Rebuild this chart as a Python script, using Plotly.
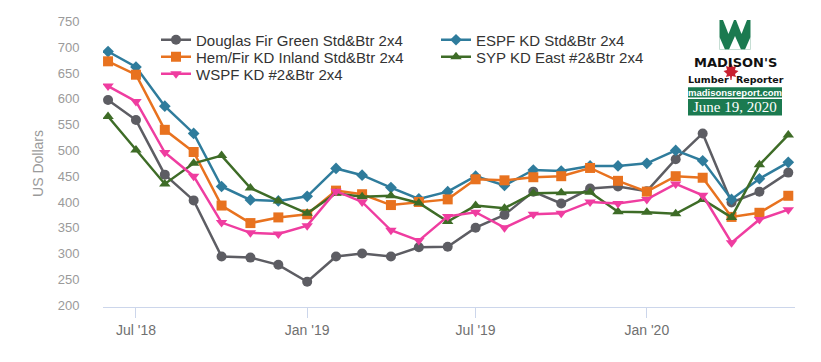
import plotly.graph_objects as go

# ---------------- data ----------------
months = [
    "2018-06-01", "2018-07-01", "2018-08-01", "2018-09-01", "2018-10-01",
    "2018-11-01", "2018-12-01", "2019-01-01", "2019-02-01", "2019-03-01",
    "2019-04-01", "2019-05-01", "2019-06-01", "2019-07-01", "2019-08-01",
    "2019-09-01", "2019-10-01", "2019-11-01", "2019-12-01", "2020-01-01",
    "2020-02-01", "2020-03-01", "2020-04-01", "2020-05-01", "2020-06-01",
]

douglas_fir = [598, 559, 453, 403, 294, 292, 278, 245, 294, 300, 294, 312, 313,
               350, 375, 420, 397, 426, 430, 421, 483, 533, 399, 420, 457]
espf = [692, 662, 586, 533, 430, 404, 402, 411, 465, 452, 428, 406, 420,
        450, 432, 462, 460, 470, 470, 475, 500, 480, 405, 445, 477]
hem_fir = [673, 647, 540, 497, 393, 359, 370, 376, 422, 415, 394, 400, 405,
           444, 442, 448, 450, 466, 441, 420, 450, 447, 371, 379, 412]
syp = [566, 501, 435, 475, 490, 427, 402, 378, 417, 410, 412, 398, 362,
       393, 388, 417, 418, 419, 381, 380, 377, 405, 370, 472, 530]
wspf = [625, 595, 496, 450, 360, 340, 338, 354, 421, 400, 345, 325, 372,
        380, 350, 376, 378, 400, 397, 405, 435, 413, 321, 366, 385]

series_names = [
    "Douglas Fir Green Std&Btr 2x4",
    "ESPF KD Std&Btr 2x4",
    "Hem/Fir KD Inland Std&Btr 2x4",
    "SYP KD East #2&Btr 2x4",
    "WSPF KD #2&Btr 2x4",
]
series_values = [douglas_fir, espf, hem_fir, syp, wspf]

x_tick_vals = ["2018-07-01", "2019-01-01", "2019-07-01", "2020-01-01"]
x_tick_text = ["Jul '18", "Jan '19", "Jul '19", "Jan '20"]
y_tick_vals = [200, 250, 300, 350, 400, 450, 500, 550, 600, 650, 700, 750]
y_title = "US Dollars"

logo_title = "MADISON'S"
logo_sub_left = "Lumber"
logo_sub_right = "Reporter"
logo_site = "madisonsreport.com"
logo_date = "June 19, 2020"

# ---------------- styles ----------------
colors = ["#5d5d63", "#2f7c9c", "#e8721f", "#3e6c27", "#ef3da0"]
symbols = ["circle", "diamond", "square", "triangle-up", "triangle-down"]
msizes = [10, 9, 10, 10, 10]
legend_keys = ["legend", "legend2", "legend3", "legend4", "legend5"]

# page body has an 8px margin; figure sized so the page fits the window
OFF = 8
W, H = 805, 346
L, R, T, B = 95, 18, 12, 47
PW, PH = W - L - R, H - T - B


def px(x):
    """page pixel x -> paper coordinate"""
    return (x - OFF - L) / PW


def py(y):
    """page pixel y -> paper coordinate"""
    return (H - B - (y - OFF)) / PH


fig = go.Figure()
for name, vals, c, s, ms, lg in zip(series_names, series_values, colors,
                                     symbols, msizes, legend_keys):
    fig.add_trace(go.Scatter(
        x=months, y=vals, name=name, mode="lines+markers",
        line=dict(color=c, width=2.5),
        marker=dict(symbol=s, size=ms, color=c, line=dict(width=0)),
        legend=lg,
    ))

# legend placements (text start x, row center y) in page pixels
legend_pos = [(196, 40), (476, 40), (196, 57), (476, 57), (196, 74)]
legend_layouts = {}
for lg, (tx, ty) in zip(legend_keys, legend_pos):
    legend_layouts[lg] = dict(
        x=px(tx - 40), y=py(ty), xanchor="left", yanchor="middle",
        bgcolor="rgba(0,0,0,0)", borderwidth=0,
        font=dict(family="Liberation Sans, Arial, sans-serif", size=15,
                  color="#333333"),
        itemclick=False, itemdoubleclick=False,
    )

fig.update_layout(
    width=W, height=H,
    margin=dict(l=L, r=R, t=T, b=B, autoexpand=False),
    paper_bgcolor="white", plot_bgcolor="white",
    font=dict(family="Liberation Sans, Arial, sans-serif"),
    xaxis=dict(
        type="date",
        range=["2018-05-26 14:00", "2020-06-08 05:00"],
        tickvals=x_tick_vals, ticktext=x_tick_text,
        showgrid=False, zeroline=False,
        showline=True, linecolor="#ccd6eb", linewidth=1,
        ticks="outside", ticklen=10, tickcolor="#ccd6eb", tickwidth=1,
        tickfont=dict(size=14, color="#707070"),
        fixedrange=True,
    ),
    yaxis=dict(
        range=[196.1, 753.2],
        tickvals=y_tick_vals,
        showgrid=False, zeroline=False, showline=False,
        ticks="outside", ticklen=20, tickcolor="rgba(0,0,0,0)",
        tickfont=dict(size=13, color="#9a9a9a"),
        title=dict(text=y_title, font=dict(size=14, color="#9a9a9a"),
                   standoff=10),
        fixedrange=True,
    ),
    showlegend=True,
    **legend_layouts,
)

# ---------------- logo (shapes + text) ----------------
green = "#1b7a50"
shapes = []


def rect(x0, y0, x1, y1, color):
    shapes.append(dict(type="rect", xref="paper", yref="paper",
                       x0=px(x0), x1=px(x1), y0=py(y1), y1=py(y0),
                       fillcolor=color, line=dict(width=0), layer="above"))


def poly(points, color):
    d = "M " + " L ".join(f"{px(a):.5f},{py(b):.5f}" for a, b in points) + " Z"
    shapes.append(dict(type="path", xref="paper", yref="paper", path=d,
                       fillcolor=color, line=dict(width=0), layer="above"))


# green "M" mark
rect(719.5, 20, 750.5, 49.5, green)
poly([(723, 20), (734, 20), (728.5, 34)], "white")
poly([(736, 20), (747, 20), (741.5, 34)], "white")
poly([(719.5, 49.5), (719.5, 37), (725, 49.5)], "white")
poly([(729, 49.5), (735, 36), (741, 49.5)], "white")
poly([(745, 49.5), (750.5, 37), (750.5, 49.5)], "white")

# maple leaf
leaf = [(731, 63), (733, 67), (736, 66), (735, 70), (738.5, 71), (735, 74),
        (736, 77), (732, 76), (731.5, 80), (730.5, 80), (730, 76), (726, 77),
        (727, 74), (723.5, 71), (727, 70), (726, 66), (729, 67)]
poly(leaf, "#c8202f")

# site and date boxes
rect(688, 87.3, 782, 97.5, green)
rect(688, 99, 782, 115.5, green)

fig.update_layout(shapes=shapes)

annos = [
    dict(text=f"<b>{logo_title}</b>", x=px(735.5), y=py(62.5),
         font=dict(family="DejaVu Sans", size=13, color="#111111")),
    dict(text=f"<b>{logo_sub_left}</b>", x=px(708.5), y=py(80),
         font=dict(family="DejaVu Sans", size=9.5, color="#111111")),
    dict(text=f"<b>{logo_sub_right}</b>", x=px(759.5), y=py(80),
         font=dict(family="DejaVu Sans", size=9.5, color="#111111")),
    dict(text=f"<b>{logo_site}</b>", x=px(735), y=py(92.4),
         font=dict(family="Liberation Sans", size=9.5, color="white")),
    dict(text=logo_date, x=px(735), y=py(107.3),
         font=dict(family="Liberation Serif", size=15, color="white")),
]
for a in annos:
    a.update(xref="paper", yref="paper", showarrow=False,
             xanchor="center", yanchor="middle")
fig.update_layout(annotations=annos)

fig.write_html("out.html")
